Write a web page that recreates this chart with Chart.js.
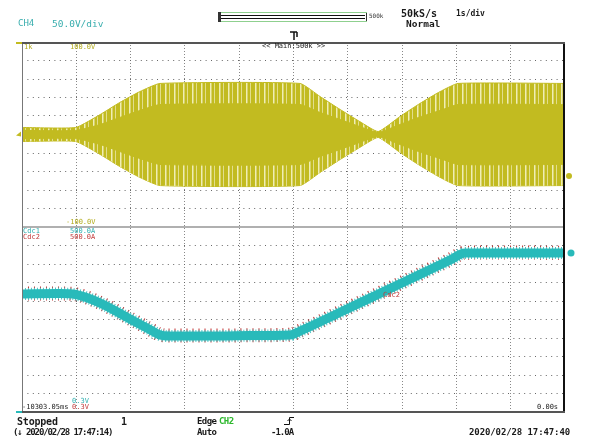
<!DOCTYPE html>
<html>
<head>
<meta charset="utf-8">
<script src="https://cdn.jsdelivr.net/npm/chart.js@4.4.1/dist/chart.umd.min.js"></script>
<style>
  body { margin: 0; background: #fff; }
  #wrap { position: relative; width: 589px; height: 441px; }
  .t { position: absolute; font-family: "DejaVu Sans Mono", monospace; white-space: pre; line-height: 1; }
  .b { font-weight: bold; color: #1a1a1a; }
  .y { color: #b3ac1c; font-size: 7px; }
  .c { color: #2fb0b0; font-size: 7px; }
  .r { color: #c23a3a; font-size: 7px; }
</style>
</head>
<body>
<div id="wrap">
  <canvas id="chart"></canvas>

  <div class="t" style="left:18px;top:19px;font-size:9px;color:#3aaeae">CH4</div>
  <div class="t" style="left:52px;top:19px;font-size:9.5px;color:#3aaeae">50.0V/div</div>
  <div class="t" style="left:369px;top:13px;font-size:6px;color:#333">500k</div>
  <div class="t b" style="left:401px;top:9px;font-size:10px">50kS/s</div>
  <div class="t b" style="left:456px;top:10px;font-size:8px">1s/div</div>
  <div class="t b" style="left:406px;top:19px;font-size:9.5px">Normal</div>
  <div class="t" style="left:262px;top:43px;font-size:7px;color:#222">&lt;&lt; Main:500k &gt;&gt;</div>

  <div class="t y" style="left:24px;top:44px">1k</div>
  <div class="t y" style="left:70px;top:44px">100.0V</div>
  <div class="t y" style="left:66px;top:219px">-100.0V</div>

  <div class="t c" style="left:23px;top:228px">Cdc1</div>
  <div class="t c" style="left:70px;top:228px">500.0A</div>
  <div class="t r" style="left:23px;top:234px">Cdc2</div>
  <div class="t r" style="left:70px;top:234px">500.0A</div>
  <div class="t r" style="left:383px;top:292px">Cdc2</div>
  <div class="t c" style="left:72px;top:398px">0.3V</div>
  <div class="t r" style="left:72px;top:404px">0.3V</div>
  <div class="t" style="left:22px;top:404px;font-size:7px;color:#222">-10303.05ms</div>
  <div class="t" style="left:537px;top:404px;font-size:7px;color:#222">0.00s</div>

  <div class="t b" style="left:17px;top:417px;font-size:10px;letter-spacing:-0.2px">Stopped</div>
  <div class="t b" style="left:121px;top:417px;font-size:10px">1</div>
  <div class="t b" style="left:13px;top:428px;font-size:9px;letter-spacing:-1.1px">(↓ 2020/02/28 17:47:14)</div>
  <div class="t b" style="left:197px;top:417px;font-size:9px;letter-spacing:-0.6px">Edge</div>
  <div class="t b" style="left:219px;top:417px;font-size:9px;letter-spacing:-0.6px;color:#2db82d">CH2</div>
  <div class="t b" style="left:197px;top:428px;font-size:9px;letter-spacing:-0.6px">Auto</div>
  <div class="t b" style="left:271px;top:428px;font-size:9px;letter-spacing:-1px">-1.0A</div>
  <div class="t b" style="left:469px;top:428px;font-size:9px;letter-spacing:-0.1px">2020/02/28 17:47:40</div>
</div>
<script>
// time base: 1 s/div, 10 div on screen, trigger in the middle
const trigPos = -5;

// CH4 (upper zone) – envelope of the switching waveform, in divisions from the trace centre
const ch4Centre = 15;
const ch4Level = 12.76;
const envTime  = [-10, -9.01, -8.56, -8.20, -7.83, -7.46, -4.88, -4.51, -4.14, -3.78, -3.44, -3.04, -2.67, -2.30, -1.97, 0];
const ch4Outer = [0.38, 0.38, 1.08, 1.73, 2.32, 2.76, 2.76, 2.05, 1.35, 0.70, 0.16, 0.97, 1.68, 2.32, 2.76, 2.76];
const ch4Inner = [0.22, 0.22, 0.54, 0.92, 1.30, 1.62, 1.62, 1.19, 0.81, 0.43, 0.11, 0.54, 0.95, 1.30, 1.62, 1.62];

// Cdc1 / Cdc2 (lower zone), position in divisions
const dcTime = [-10, -9.30, -9.01, -8.56, -8.01, -7.64, -7.46, -7.27, -6.35, -5.80, -5.06, -4.88, -4.14, -3.31, -2.67, -2.12, -1.84, -1.20, 0];
const cdc1   = [6.38, 6.40, 6.35, 5.89, 5.03, 4.45, 4.17, 4.11, 4.11, 4.13, 4.16, 4.37, 5.39, 6.55, 7.44, 8.21, 8.59, 8.60, 8.59];
const cdc2   = [6.40, 6.41, 6.36, 5.90, 5.05, 4.47, 4.19, 4.13, 4.13, 4.15, 4.18, 4.39, 5.41, 6.57, 7.46, 8.23, 8.61, 8.62, 8.61];

const YEL = 'rgb(194,187,32)';
const TEAL = 'rgb(40,186,186)';
const RED = 'rgb(192,44,44)';

// vertical stripe texture for the outer part of the envelope
const stripe = document.createElement('canvas');
stripe.width = 9; stripe.height = 1;
const sctx = stripe.getContext('2d');
sctx.fillStyle = YEL; sctx.fillRect(0, 0, 9, 1);
sctx.fillStyle = 'rgb(240,238,180)'; sctx.fillRect(3, 0, 1, 1);
sctx.fillStyle = 'rgb(216,211,110)'; sctx.fillRect(4, 0, 1, 1);
sctx.fillStyle = 'rgb(226,222,140)'; sctx.fillRect(7, 0, 1, 1);
const stripePattern = sctx.createPattern(stripe, 'repeat');

const pts = (xs, ys) => xs.map((x, i) => ({ x: x, y: ys[i] }));

const frame = {
  id: 'frame',
  afterDraw(chart) {
    const { ctx, chartArea: a, scales: { x, y } } = chart;
    ctx.save();
    // screen frame
    ctx.strokeStyle = '#777'; ctx.lineWidth = 1;
    ctx.beginPath(); ctx.moveTo(a.left + 0.5, a.top); ctx.lineTo(a.left + 0.5, a.bottom); ctx.stroke();
    ctx.strokeStyle = '#111'; ctx.lineWidth = 2;
    ctx.beginPath(); ctx.moveTo(a.right - 1, a.top); ctx.lineTo(a.right - 1, a.bottom); ctx.stroke();
    ctx.strokeStyle = '#555'; ctx.lineWidth = 2;
    ctx.beginPath(); ctx.moveTo(a.left - 6, a.top + 1); ctx.lineTo(a.right, a.top + 1); ctx.stroke();
    ctx.beginPath(); ctx.moveTo(a.left - 6, a.bottom); ctx.lineTo(a.right, a.bottom); ctx.stroke();
    ctx.strokeStyle = YEL;
    ctx.beginPath(); ctx.moveTo(a.left - 6, a.top + 1); ctx.lineTo(a.left, a.top + 1); ctx.stroke();
    ctx.strokeStyle = TEAL;
    ctx.beginPath(); ctx.moveTo(a.left - 6, a.bottom); ctx.lineTo(a.left, a.bottom); ctx.stroke();

    // channel markers
    const yc = y.getPixelForValue(ch4Centre);
    ctx.fillStyle = YEL;
    ctx.beginPath(); ctx.moveTo(a.left - 1, yc - 3); ctx.lineTo(a.left - 6, yc + 1); ctx.lineTo(a.left - 1, yc + 2); ctx.fill();
    ctx.beginPath(); ctx.arc(a.right + 4, y.getPixelForValue(ch4Level), 3, 0, Math.PI * 2); ctx.fill();
    ctx.fillStyle = TEAL;
    ctx.beginPath(); ctx.arc(a.right + 6, y.getPixelForValue(cdc1[cdc1.length - 1]), 3.5, 0, Math.PI * 2); ctx.fill();

    // trigger position mark
    const xt = Math.round(x.getPixelForValue(trigPos));
    ctx.strokeStyle = '#111'; ctx.lineWidth = 1.5;
    ctx.beginPath(); ctx.moveTo(xt - 4, a.top - 10); ctx.lineTo(xt + 3, a.top - 10); ctx.stroke();
    ctx.beginPath(); ctx.moveTo(xt, a.top - 10); ctx.lineTo(xt, a.top - 2); ctx.stroke();
    ctx.beginPath(); ctx.moveTo(xt + 3, a.top - 10); ctx.lineTo(xt + 3, a.top - 5); ctx.stroke();

    // record length bar
    ctx.strokeStyle = '#8fd08f'; ctx.lineWidth = 1;
    ctx.strokeRect(218.5, 12.5, 148, 9);
    ctx.strokeStyle = '#111'; ctx.lineWidth = 1;
    ctx.beginPath(); ctx.moveTo(221, 15.5); ctx.lineTo(365, 15.5); ctx.stroke();
    ctx.beginPath(); ctx.moveTo(221, 18.5); ctx.lineTo(365, 18.5); ctx.stroke();
    ctx.fillStyle = '#333'; ctx.fillRect(218, 12, 3, 10);
    ctx.fillStyle = '#333'; ctx.fillRect(366, 13, 1, 8);

    // trigger slope icon
    ctx.strokeStyle = '#111'; ctx.lineWidth = 1;
    ctx.beginPath(); ctx.moveTo(284, 424.5); ctx.lineTo(289.5, 424.5); ctx.lineTo(289.5, 417.5); ctx.lineTo(294, 417.5); ctx.stroke();
    ctx.beginPath(); ctx.moveTo(287.5, 421); ctx.lineTo(289.5, 419); ctx.lineTo(291.5, 421); ctx.stroke();
    ctx.restore();
  }
};

const ctx = document.getElementById('chart').getContext('2d');
const chart = new Chart(ctx, {
  type: 'line',
  data: {
    datasets: [{
      label: 'CH4 outer +',
      data: pts(envTime, ch4Outer.map(v => ch4Centre + v)),
      borderColor: YEL, borderWidth: 1,
      backgroundColor: stripePattern,
      fill: '+1', order: 4
    }, {
      label: 'CH4 outer -',
      data: pts(envTime, ch4Outer.map(v => ch4Centre - v)),
      borderColor: YEL, borderWidth: 1,
      fill: false, order: 4
    }, {
      label: 'CH4 inner +',
      data: pts(envTime, ch4Inner.map(v => ch4Centre + v)),
      borderColor: YEL, borderWidth: 1,
      backgroundColor: YEL,
      fill: '+1', order: 3
    }, {
      label: 'CH4 inner -',
      data: pts(envTime, ch4Inner.map(v => ch4Centre - v)),
      borderColor: YEL, borderWidth: 1,
      fill: false, order: 3
    }, {
      label: 'Cdc2',
      data: pts(dcTime, cdc2),
      borderColor: RED, borderWidth: 14,
      borderDash: [1, 5],
      cubicInterpolationMode: 'monotone',
      fill: false, order: 2
    }, {
      label: 'Cdc1 edge',
      data: pts(dcTime, cdc1),
      borderColor: 'rgb(80,196,196)', borderWidth: 12,
      borderDash: [1, 2],
      cubicInterpolationMode: 'monotone',
      fill: false, order: 1
    }, {
      label: 'Cdc1',
      data: pts(dcTime, cdc1),
      borderColor: TEAL, borderWidth: 9,
      cubicInterpolationMode: 'monotone',
      fill: false, order: 0
    }]
  },
  options: {
    responsive: true,
    maintainAspectRatio: false,
    animation: false,
    events: [],
    layout: { padding: { left: 22, right: 24, top: 42, bottom: 29 } },
    elements: {
      point: { radius: 0 },
      line: { tension: 0.15, borderJoinStyle: 'round' }
    },
    plugins: {
      legend: { display: false },
      tooltip: { enabled: false }
    },
    scales: {
      x: {
        type: 'linear', min: -10, max: 0,
        ticks: { display: false, stepSize: 1 },
        grid: {
          drawTicks: false,
          color: c => (c.tick.value === -10 || c.tick.value === 0) ? 'rgba(0,0,0,0)' : '#888',
          lineWidth: 1
        },
        border: { display: false, dash: [1, 2] }
      },
      y: {
        min: 0, max: 20,
        ticks: { display: false, stepSize: 1 },
        grid: {
          drawTicks: false,
          color: c => {
            const v = c.tick.value;
            if (v === 0 || v === 20) return 'rgba(0,0,0,0)';
            return v === 10 ? '#b0b0b0' : '#666';
          },
          lineWidth: c => c.tick.value === 10 ? 2 : 1
        },
        border: { display: false, dash: c => c.tick && c.tick.value === 10 ? [] : [1, 4.4] }
      }
    }
  },
  plugins: [frame]
});
</script>
</body>
</html>
